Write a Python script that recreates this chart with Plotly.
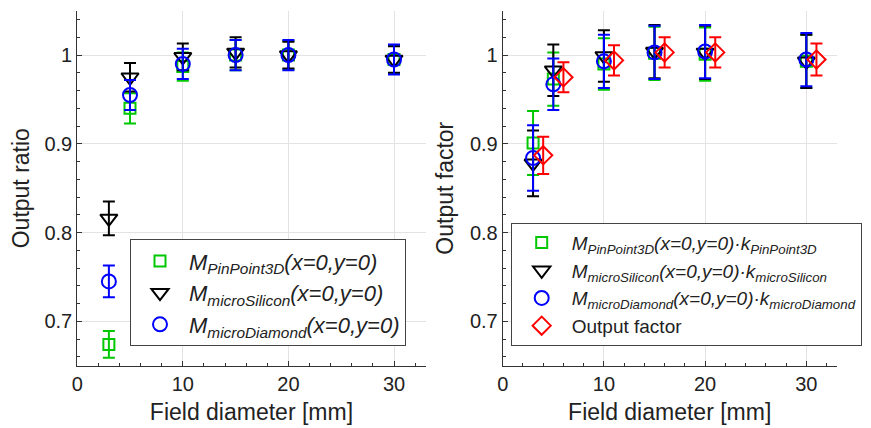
import plotly.graph_objects as go

# ---------------- data ----------------
field = [3, 5, 10, 15, 20, 30]
field_of = [4, 6, 11, 16, 21, 31]  # output factor drawn with +1 mm offset

# Left: output ratio
pp_ratio = [0.674, 0.940, 0.987, 1.000, 1.000, 0.995]
pp_ratio_err = [0.015, 0.017, 0.016, 0.017, 0.016, 0.016]
ms_ratio = [0.816, 0.975, 0.998, 1.003, 1.000, 0.995]
ms_ratio_err = [0.019, 0.016, 0.015, 0.017, 0.015, 0.015]
md_ratio = [0.745, 0.955, 0.990, 1.000, 1.000, 0.995]
md_ratio_err = [0.018, 0.017, 0.017, 0.017, 0.017, 0.017]

# Right: output factor
pp_of = [0.901, 0.973, 0.990, 1.002, 1.001, 0.993]
pp_of_err = [0.036, 0.030, 0.029, 0.030, 0.030, 0.030]
ms_of = [0.878, 0.983, 0.999, 1.004, 1.003, 0.993]
ms_of_err = [0.037, 0.029, 0.029, 0.030, 0.030, 0.030]
md_of = [0.884, 0.967, 0.993, 1.003, 1.004, 0.995]
md_of_err = [0.037, 0.029, 0.030, 0.030, 0.030, 0.030]
of_val = [0.887, 0.975, 0.994, 1.003, 1.003, 0.995]
of_err = [0.021, 0.017, 0.017, 0.017, 0.017, 0.018]

GREEN = "rgb(0,200,0)"
BLACK = "black"
BLUE = "rgb(0,0,255)"
RED = "rgb(255,0,0)"

FONT = "Arial, Liberation Sans, sans-serif"

fig = go.Figure()


def add(x, y, e, color, symbol, size, name, xa, ya, legend):
    fig.add_trace(go.Scatter(
        x=x, y=y, mode="markers", name=name,
        xaxis=xa, yaxis=ya, legend=legend,
        marker=dict(symbol=symbol, size=size, color=color,
                    line=dict(color=color, width=2)),
        error_y=dict(type="data", array=e, visible=True, color=color,
                     thickness=2, width=6),
    ))


add(field, pp_ratio, pp_ratio_err, GREEN, "square-open", 11,
    "<i>M<sub>PinPoint3D</sub>(x=0,y=0)</i>", "x", "y", "legend")
add(field, ms_ratio, ms_ratio_err, BLACK, "triangle-down-open", 15,
    "<i>M<sub>microSilicon</sub>(x=0,y=0)</i>", "x", "y", "legend")
add(field, md_ratio, md_ratio_err, BLUE, "circle-open", 14,
    "<i>M<sub>microDiamond</sub>(x=0,y=0)</i>", "x", "y", "legend")

add(field, pp_of, pp_of_err, GREEN, "square-open", 11,
    "<i>M<sub>PinPoint3D</sub>(x=0,y=0)·k<sub>PinPoint3D</sub></i>", "x2", "y2", "legend2")
add(field, ms_of, ms_of_err, BLACK, "triangle-down-open", 15,
    "<i>M<sub>microSilicon</sub>(x=0,y=0)·k<sub>microSilicon</sub></i>", "x2", "y2", "legend2")
add(field, md_of, md_of_err, BLUE, "circle-open", 14,
    "<i>M<sub>microDiamond</sub>(x=0,y=0)·k<sub>microDiamond</sub></i>", "x2", "y2", "legend2")
add(field_of, of_val, of_err, RED, "diamond-open", 14,
    "Output factor", "x2", "y2", "legend2")

W, H = 871, 428
OFF = 8  # page body margin offset
ydom = [1 - (365.7 - OFF) / H, 1 - (10.7 - OFF) / H]

axis_common = dict(
    showline=True, linecolor="#333", linewidth=1,
    ticks="inside", ticklen=5, tickcolor="#333",
    showgrid=True, gridcolor="#e3e3e3", gridwidth=1,
    zeroline=False, automargin=False,
    tickfont=dict(size=20, color="#222", family=FONT),
    title_font=dict(size=23, color="#222", family=FONT),
)

xcommon = dict(axis_common, range=[0, 33], dtick=10, tick0=0,
               minor=dict(dtick=2, ticks="inside", ticklen=3, tickcolor="#333", showgrid=False),
               title_text="Field diameter [mm]", title_standoff=10)
ycommon = dict(axis_common, range=[0.65, 1.05], dtick=0.1, tick0=0,
               minor=dict(dtick=0.02, ticks="inside", ticklen=3, tickcolor="#333", showgrid=False),
               title_standoff=9)

fig.update_layout(
    width=W, height=H,
    margin=dict(l=0, r=0, t=0, b=0, autoexpand=False),
    paper_bgcolor="white", plot_bgcolor="white",
    font=dict(family=FONT, color="#222"),
    xaxis=dict(xcommon, domain=[(77.2 - OFF) / W, (425.7 - OFF) / W], anchor="y"),
    yaxis=dict(ycommon, domain=ydom, anchor="x", title_text="Output ratio"),
    xaxis2=dict(xcommon, domain=[(502.7 - OFF) / W, (836.7 - OFF) / W], anchor="y2"),
    yaxis2=dict(ycommon, domain=ydom, anchor="x2", title_text="Output factor"),
    legend=dict(x=(130 - OFF) / W, y=1 - (239.3 - OFF) / H, xanchor="left", yanchor="top",
                bgcolor="white", bordercolor="#444", borderwidth=1,
                font=dict(size=22, family=FONT, color="#222"),
                tracegroupgap=0, itemwidth=48),
    legend2=dict(x=(510.7 - OFF) / W, y=1 - (222.7 - OFF) / H, xanchor="left", yanchor="top",
                 bgcolor="white", bordercolor="#444", borderwidth=1,
                 font=dict(size=19, family=FONT, color="#222"),
                 tracegroupgap=0, itemwidth=50),
    showlegend=True,
)

fig.write_html("out.html")
